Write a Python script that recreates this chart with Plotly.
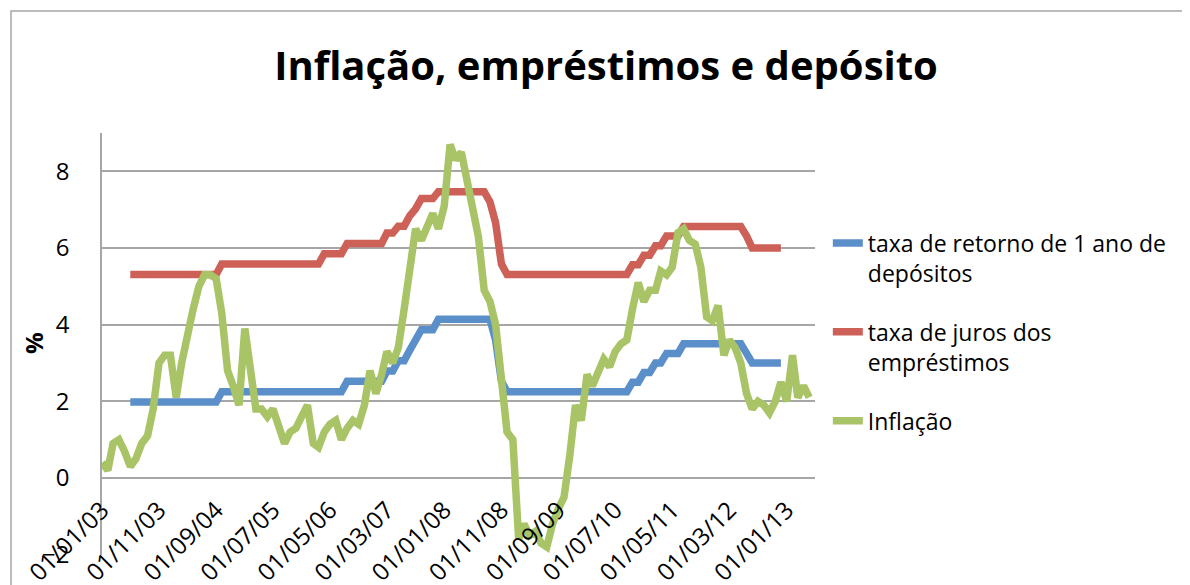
import pandas as pd
import plotly.graph_objects as go

# ---------------- data ----------------
inflation_dates = pd.date_range("2003-01-01", periods=125, freq="MS")
inflation = [
    0.4, 0.2, 0.9, 1.0, 0.7, 0.3, 0.5, 0.9, 1.1, 1.8, 3.0, 3.2,   # 2003
    3.2, 2.1, 3.0, 3.8, 4.4, 5.0, 5.3, 5.3, 5.2, 4.3, 2.8, 2.4,   # 2004
    1.9, 3.9, 2.7, 1.8, 1.8, 1.6, 1.8, 1.3, 0.9, 1.2, 1.3, 1.6,   # 2005
    1.9, 0.9, 0.8, 1.2, 1.4, 1.5, 1.0, 1.3, 1.5, 1.4, 1.9, 2.8,   # 2006
    2.2, 2.7, 3.3, 3.0, 3.4, 4.4, 5.6, 6.5, 6.2, 6.5, 6.9, 6.5,   # 2007
    7.1, 8.7, 8.3, 8.5, 7.7, 7.1, 6.3, 4.9, 4.6, 4.0, 2.4, 1.2,   # 2008
    1.0, -1.6, -1.2, -1.5, -1.4, -1.7, -1.8, -1.2, -0.8, -0.5, 0.6, 1.9,  # 2009
    1.5, 2.7, 2.4, 2.8, 3.1, 2.9, 3.3, 3.5, 3.6, 4.4, 5.1, 4.6,   # 2010
    4.9, 4.9, 5.4, 5.3, 5.5, 6.4, 6.5, 6.2, 6.1, 5.5, 4.2, 4.1,   # 2011
    4.5, 3.2, 3.6, 3.4, 3.0, 2.2, 1.8, 2.0, 1.9, 1.7, 2.0, 2.5,   # 2012
    2.0, 3.2, 2.1, 2.4, 2.1,                                      # 2013
]

rate_dates = pd.date_range("2003-06-01", periods=115, freq="MS")
deposit_rate = [
    1.98, 1.98, 1.98, 1.98, 1.98, 1.98, 1.98,                     # Jun-Dec 2003
    1.98, 1.98, 1.98, 1.98, 1.98, 1.98, 1.98, 1.98, 1.98, 2.25, 2.25, 2.25,  # 2004
    2.25, 2.25, 2.25, 2.25, 2.25, 2.25, 2.25, 2.25, 2.25, 2.25, 2.25, 2.25,  # 2005
    2.25, 2.25, 2.25, 2.25, 2.25, 2.25, 2.25, 2.52, 2.52, 2.52, 2.52, 2.52,  # 2006
    2.52, 2.52, 2.79, 2.79, 3.06, 3.06, 3.33, 3.60, 3.87, 3.87, 3.87, 4.14,  # 2007
    4.14, 4.14, 4.14, 4.14, 4.14, 4.14, 4.14, 4.14, 4.14, 3.60, 2.52, 2.25,  # 2008
    2.25, 2.25, 2.25, 2.25, 2.25, 2.25, 2.25, 2.25, 2.25, 2.25, 2.25, 2.25,  # 2009
    2.25, 2.25, 2.25, 2.25, 2.25, 2.25, 2.25, 2.25, 2.25, 2.50, 2.50, 2.75,  # 2010
    2.75, 3.00, 3.00, 3.25, 3.25, 3.25, 3.50, 3.50, 3.50, 3.50, 3.50, 3.50,  # 2011
    3.50, 3.50, 3.50, 3.50, 3.50, 3.25, 3.00, 3.00, 3.00, 3.00, 3.00, 3.00,  # 2012
]
lending_rate = [
    5.31, 5.31, 5.31, 5.31, 5.31, 5.31, 5.31,                     # Jun-Dec 2003
    5.31, 5.31, 5.31, 5.31, 5.31, 5.31, 5.31, 5.31, 5.31, 5.58, 5.58, 5.58,  # 2004
    5.58, 5.58, 5.58, 5.58, 5.58, 5.58, 5.58, 5.58, 5.58, 5.58, 5.58, 5.58,  # 2005
    5.58, 5.58, 5.58, 5.85, 5.85, 5.85, 5.85, 6.12, 6.12, 6.12, 6.12, 6.12,  # 2006
    6.12, 6.12, 6.39, 6.39, 6.57, 6.57, 6.84, 7.02, 7.29, 7.29, 7.29, 7.47,  # 2007
    7.47, 7.47, 7.47, 7.47, 7.47, 7.47, 7.47, 7.47, 7.20, 6.66, 5.58, 5.31,  # 2008
    5.31, 5.31, 5.31, 5.31, 5.31, 5.31, 5.31, 5.31, 5.31, 5.31, 5.31, 5.31,  # 2009
    5.31, 5.31, 5.31, 5.31, 5.31, 5.31, 5.31, 5.31, 5.31, 5.56, 5.56, 5.81,  # 2010
    5.81, 6.06, 6.06, 6.31, 6.31, 6.31, 6.56, 6.56, 6.56, 6.56, 6.56, 6.56,  # 2011
    6.56, 6.56, 6.56, 6.56, 6.56, 6.31, 6.00, 6.00, 6.00, 6.00, 6.00, 6.00,  # 2012
]

tick_dates = ["2003-01-01", "2003-11-01", "2004-09-01", "2005-07-01", "2006-05-01",
              "2007-03-01", "2008-01-01", "2008-11-01", "2009-09-01", "2010-07-01",
              "2011-05-01", "2012-03-01", "2013-01-01"]
tick_labels = ["01/01/03", "01/11/03", "01/09/04", "01/07/05", "01/05/06",
               "01/03/07", "01/01/08", "01/11/08", "01/09/09", "01/07/10",
               "01/05/11", "01/03/12", "01/01/13"]
y_ticks = [-2, 0, 2, 4, 6, 8]

series_names = ["taxa de retorno de 1 ano de<br>depósitos",
                "taxa de juros dos<br>empréstimos",
                "Inflação"]
colors = ["#5B8FC9", "#CD6157", "#A9C466"]

# ---------------- figure ----------------
FONT = "Open Sans"
GRID = "#A6A6A6"
OFF = 8  # page body margin
W, H = 1190 - OFF, 585 - OFF
L, T = 102 - OFF, 133 - OFF          # plot area left / top in figure coords
PW, PH = 713, 422                    # plot area size
R, B = W - L - PW, H - T - PH

def px(xpix):   # page pixel -> paper x
    return (xpix - 102) / PW

def py(ypix):   # page pixel -> paper y
    return (555 - ypix) / PH

fig = go.Figure()
fig.add_trace(go.Scatter(x=rate_dates, y=deposit_rate, mode="lines", name=series_names[0],
                         line=dict(color=colors[0], width=7.5), legendgroup="a"))
fig.add_trace(go.Scatter(x=rate_dates, y=lending_rate, mode="lines", name=series_names[1],
                         line=dict(color=colors[1], width=7.5), legendgroup="b"))
fig.add_trace(go.Scatter(x=inflation_dates, y=inflation, mode="lines", name=series_names[2],
                         line=dict(color=colors[2], width=7.5), legendgroup="c"))

fig.update_layout(
    width=W, height=H,
    margin=dict(l=L, r=R, t=T, b=B, pad=0, autoexpand=False),
    paper_bgcolor="white", plot_bgcolor="white",
    font=dict(family=FONT, color="black", size=24),
    title=dict(text="Inflação, empréstimos e depósito", x=(606 - OFF) / W, xanchor="center",
               y=1 - (66 - OFF) / H, yanchor="middle", yref="container",
               font=dict(family=FONT, size=40, weight="bold", color="black")),
    showlegend=True,
    legend=dict(x=1.018, xanchor="left", y=0.79, yanchor="top", valign="top",
                font=dict(family=FONT, size=23, color="black"),
                traceorder="grouped", tracegroupgap=26, bgcolor="rgba(0,0,0,0)"),
    xaxis=dict(type="date", range=["2003-01-01", "2013-06-01"], automargin=False,
               tickvals=tick_dates, ticktext=tick_labels, tickangle=-45,
               showgrid=False, showline=False, zeroline=False, ticks="",
               anchor="free", position=2 / 11, ticklabelstandoff=12,
               tickfont=dict(family=FONT, size=24, color="black")),
    yaxis=dict(range=[-2.01, 9], tickvals=y_ticks, showgrid=True, gridcolor=GRID, gridwidth=1.5,
               automargin=False,
               showline=True, linecolor=GRID, linewidth=1.5, zeroline=False, ticks="",
               ticklabelstandoff=26,
               tickfont=dict(family=FONT, size=24, color="black")),
    annotations=[dict(text="<b>%</b>", x=px(33), y=py(343), xanchor="center", yanchor="middle",
                      xref="paper", yref="paper", showarrow=False, textangle=-90,
                      font=dict(family=FONT, size=24, color="black"))],
    shapes=[dict(type="rect", xref="paper", yref="paper",
                 x0=px(11), x1=px(1260), y0=py(650), y1=py(11),
                 line=dict(color=GRID, width=1.5), fillcolor="rgba(0,0,0,0)", layer="below")],
)

fig.write_html("out.html")
